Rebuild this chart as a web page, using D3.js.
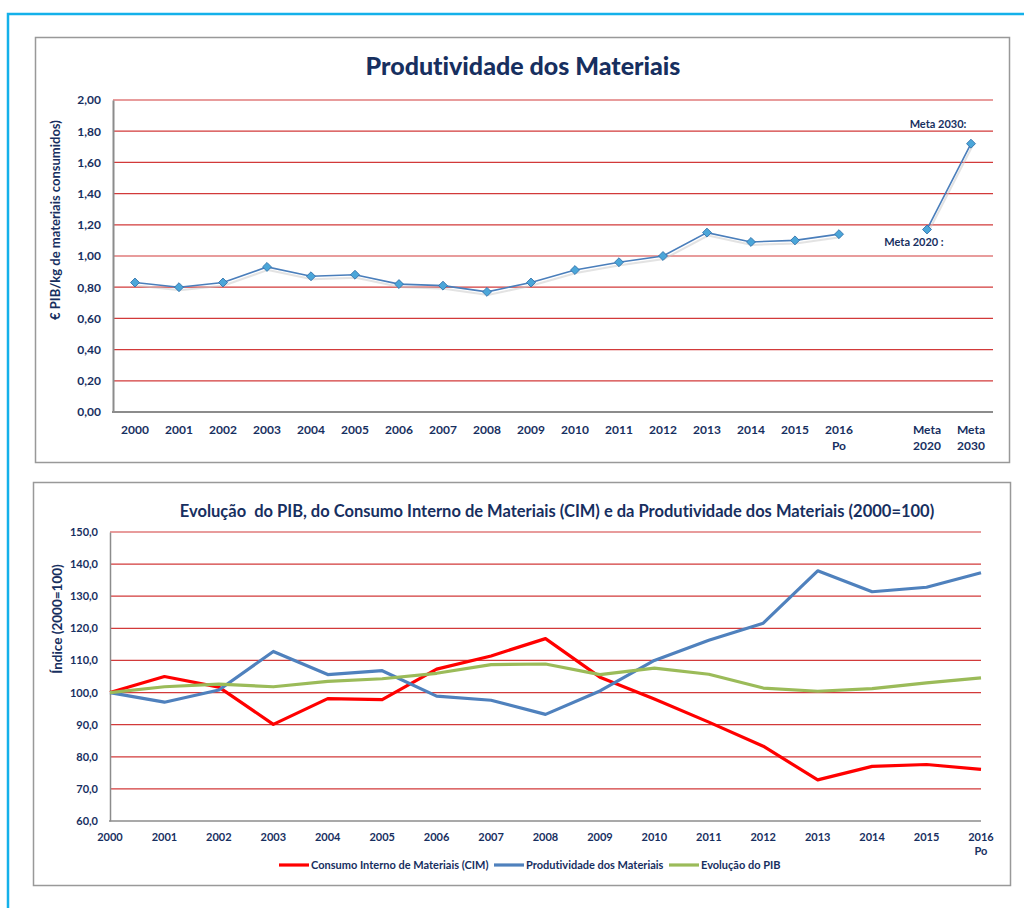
<!DOCTYPE html>
<html>
<head>
<meta charset="utf-8">
<script src="https://cdn.jsdelivr.net/npm/d3@7"></script>
<style>
  body { margin: 0; background: #fff; }
  text { font-family: Lato, "Open Sans", sans-serif; font-weight: 700; fill: #172f5f;
         font-variant-ligatures: none; }
</style>
</head>
<body>
<div id="chart"></div>
<script>
var w = 1024;
var h = 908;

// top chart data
var prodCategories = ["2000", "2001", "2002", "2003", "2004", "2005", "2006", "2007", "2008",
                      "2009", "2010", "2011", "2012", "2013", "2014", "2015", "2016 Po",
                      "", "Meta 2020", "Meta 2030"];
var prodValues = [0.83, 0.80, 0.83, 0.93, 0.87, 0.88, 0.82, 0.81, 0.77,
                  0.83, 0.91, 0.96, 1.00, 1.15, 1.09, 1.10, 1.14,
                  null, 1.17, 1.72];
var prodTicks = [0, 0.2, 0.4, 0.6, 0.8, 1.0, 1.2, 1.4, 1.6, 1.8, 2.0];

// bottom chart data
var years = ["2000", "2001", "2002", "2003", "2004", "2005", "2006", "2007", "2008",
             "2009", "2010", "2011", "2012", "2013", "2014", "2015", "2016 Po"];
var cimValues = [100, 105.0, 101.7, 90.1, 98.1, 97.8, 107.3, 111.4, 116.8,
                 104.8, 98.0, 90.8, 83.3, 72.8, 77.0, 77.6, 76.1];
var produtValues = [100, 97.0, 100.8, 112.8, 105.6, 106.8, 98.9, 97.6, 93.2,
                    100.5, 110.0, 116.3, 121.6, 137.9, 131.4, 132.8, 137.3];
var pibValues = [100, 101.8, 102.6, 101.8, 103.5, 104.3, 106.0, 108.7, 108.9,
                 105.6, 107.6, 105.7, 101.4, 100.4, 101.2, 103.0, 104.6];
var indexTicks = [60, 70, 80, 90, 100, 110, 120, 130, 140, 150];

var series = [
  {name: "Consumo Interno de Materiais (CIM)", values: cimValues, color: "#ff0000"},
  {name: "Produtividade dos Materiais", values: produtValues, color: "#4f81bd"},
  {name: "Evolução do PIB", values: pibValues, color: "#9bbb59"}
];

var gridColor = "#d23a3a";
var axisColor = "#8c8c8c";
var textColor = "#172f5f";
var fmt = function(d, dec) { return d.toFixed(dec).replace(".", ","); };

var svg = d3.select("#chart")
            .append("svg")
            .attr("width", w)
            .attr("height", h);

// page frame
svg.append("path")
   .attr("d", "M8,908 V14 H1024")
   .attr("fill", "none")
   .attr("stroke", "#14b1ea")
   .attr("stroke-width", 2.5);

// panels
svg.append("rect").attr("x", 35.5).attr("y", 37.5).attr("width", 974).attr("height", 425)
   .attr("fill", "#fff").attr("stroke", "#999").attr("stroke-width", 1.5);
svg.append("rect").attr("x", 33.5).attr("y", 482.5).attr("width", 977).attr("height", 403)
   .attr("fill", "#fff").attr("stroke", "#999").attr("stroke-width", 1.5);

// ---------- top chart ----------
var xTop = d3.scaleBand()
             .domain(prodCategories)
             .range([113, 993]);

var yTop = d3.scaleLinear()
             .domain([0, 2])
             .range([412, 100]);

var topChart = svg.append("g");

topChart.append("text")
   .attr("x", 523)
   .attr("y", 75)
   .attr("text-anchor", "middle")
   .style("font-size", "25px")
   .style("font-weight", 900)
   .text("Produtividade dos Materiais");

topChart.append("g")
   .selectAll("line")
   .data(prodTicks.filter(function(d) { return d > 0; }))
   .enter()
   .append("line")
   .attr("x1", 113)
   .attr("x2", 993)
   .attr("y1", function(d) { return yTop(d); })
   .attr("y2", function(d) { return yTop(d); })
   .attr("stroke", gridColor)
   .attr("stroke-width", 1.2);

var yAxisTop = d3.axisLeft(yTop)
                 .tickValues(prodTicks)
                 .tickSize(0)
                 .tickPadding(12)
                 .tickFormat(function(d) { return fmt(d, 2); });

topChart.append("g")
   .attr("class", "y axis")
   .attr("transform", "translate(113,0)")
   .call(yAxisTop)
   .call(function(g) {
     g.select(".domain").attr("stroke", axisColor).attr("stroke-width", 2);
     g.selectAll("text").style("font-size", "12px").attr("fill", textColor);
   });

topChart.append("line")
   .attr("x1", 112).attr("x2", 993)
   .attr("y1", 412).attr("y2", 412)
   .attr("stroke", axisColor).attr("stroke-width", 2);

topChart.append("g")
   .selectAll("text")
   .data(prodCategories)
   .enter()
   .append("text")
   .attr("x", function(d) { return xTop(d) + xTop.bandwidth() / 2; })
   .attr("y", 434)
   .attr("text-anchor", "middle")
   .style("font-size", "12px")
   .each(function(d) {
     var parts = d.split(" ");
     var t = d3.select(this);
     parts.forEach(function(p, i) {
       t.append("tspan")
        .attr("x", xTop(d) + xTop.bandwidth() / 2)
        .attr("dy", i == 0 ? 0 : 16)
        .text(p);
     });
   });

topChart.append("text")
   .attr("transform", "translate(60,220) rotate(-90)")
   .attr("text-anchor", "middle")
   .style("font-size", "13px")
   .text("€ PIB/kg de materiais consumidos)");

var prodPoints = prodCategories.map(function(c, i) { return {cat: c, value: prodValues[i]}; });

var lineTop = d3.line()
                .defined(function(d) { return d.value != null; })
                .x(function(d) { return xTop(d.cat) + xTop.bandwidth() / 2; })
                .y(function(d) { return yTop(d.value); });

// soft shadow under the line
topChart.append("path")
   .datum(prodPoints)
   .attr("d", lineTop)
   .attr("transform", "translate(1,3)")
   .attr("fill", "none")
   .attr("stroke", "#c8c8c8")
   .attr("stroke-width", 2)
   .attr("opacity", 0.5);

topChart.append("path")
   .datum(prodPoints)
   .attr("d", lineTop)
   .attr("fill", "none")
   .attr("stroke", "#4a7ebb")
   .attr("stroke-width", 1.6);

topChart.append("g")
   .selectAll("path")
   .data(prodPoints.filter(function(d) { return d.value != null; }))
   .enter()
   .append("path")
   .attr("d", d3.symbol().type(d3.symbolSquare).size(40))
   .attr("transform", function(d) {
     return "translate(" + (xTop(d.cat) + xTop.bandwidth() / 2) + "," + yTop(d.value) + ") rotate(45)";
   })
   .attr("fill", "#4ba6d9")
   .attr("stroke", "#2f6ea8")
   .attr("stroke-width", 0.8);

topChart.append("text")
   .attr("x", 938)
   .attr("y", 128)
   .attr("text-anchor", "middle")
   .style("font-size", "11px")
   .text("Meta 2030:");

topChart.append("text")
   .attr("x", 914)
   .attr("y", 246)
   .attr("text-anchor", "middle")
   .style("font-size", "11px")
   .text("Meta 2020 :");

// ---------- bottom chart ----------
var xBot = d3.scalePoint()
             .domain(years)
             .range([110, 981]);

var yBot = d3.scaleLinear()
             .domain([60, 150])
             .range([821, 532]);

var botChart = svg.append("g");

botChart.append("text")
   .attr("x", 557)
   .attr("y", 517)
   .attr("text-anchor", "middle")
   .style("font-size", "16.5px")
   .attr("xml:space", "preserve")
   .text("Evolução  do PIB, do Consumo Interno de Materiais (CIM) e da Produtividade dos Materiais (2000=100)");

botChart.append("g")
   .selectAll("line")
   .data(indexTicks.filter(function(d) { return d > 60; }))
   .enter()
   .append("line")
   .attr("x1", 110)
   .attr("x2", 981)
   .attr("y1", function(d) { return yBot(d); })
   .attr("y2", function(d) { return yBot(d); })
   .attr("stroke", gridColor)
   .attr("stroke-width", 1.2);

var yAxisBot = d3.axisLeft(yBot)
                 .tickValues(indexTicks)
                 .tickSize(0)
                 .tickPadding(12)
                 .tickFormat(function(d) { return fmt(d, 1); });

botChart.append("g")
   .attr("class", "y axis")
   .attr("transform", "translate(110,0)")
   .call(yAxisBot)
   .call(function(g) {
     g.select(".domain").attr("stroke", axisColor).attr("stroke-width", 1.5);
     g.selectAll("text").style("font-size", "11px").attr("fill", textColor);
   });

botChart.append("line")
   .attr("x1", 109).attr("x2", 981)
   .attr("y1", 821).attr("y2", 821)
   .attr("stroke", axisColor).attr("stroke-width", 1.5);

botChart.append("g")
   .selectAll("text")
   .data(years)
   .enter()
   .append("text")
   .attr("x", function(d) { return xBot(d); })
   .attr("y", 841)
   .attr("text-anchor", "middle")
   .style("font-size", "11px")
   .each(function(d) {
     var parts = d.split(" ");
     var t = d3.select(this);
     parts.forEach(function(p, i) {
       t.append("tspan")
        .attr("x", xBot(d))
        .attr("dy", i == 0 ? 0 : 14)
        .text(p);
     });
   });

botChart.append("text")
   .attr("transform", "translate(62,619) rotate(-90)")
   .attr("text-anchor", "middle")
   .style("font-size", "13.5px")
   .text("Índice (2000=100)");

var lineBot = d3.line()
                .x(function(d, i) { return xBot(years[i]); })
                .y(function(d) { return yBot(d); });

botChart.append("g")
   .selectAll("path")
   .data(series)
   .enter()
   .append("path")
   .attr("d", function(d) { return lineBot(d.values); })
   .attr("fill", "none")
   .attr("stroke", function(d) { return d.color; })
   .attr("stroke-width", 3.2)
   .attr("stroke-linejoin", "round");

// legend
var legendX = [279, 494, 669];
var legend = botChart.append("g")
                .selectAll("g")
                .data(series)
                .enter()
                .append("g")
                .attr("transform", function(d, i) { return "translate(" + legendX[i] + ",865)"; });

legend.append("line")
      .attr("x1", 0).attr("x2", 30)
      .attr("y1", 0).attr("y2", 0)
      .attr("stroke", function(d) { return d.color; })
      .attr("stroke-width", 3.2);

legend.append("text")
      .attr("x", 32)
      .attr("y", 4)
      .style("font-size", "11px")
      .text(function(d) { return d.name; });
</script>
</body>
</html>
